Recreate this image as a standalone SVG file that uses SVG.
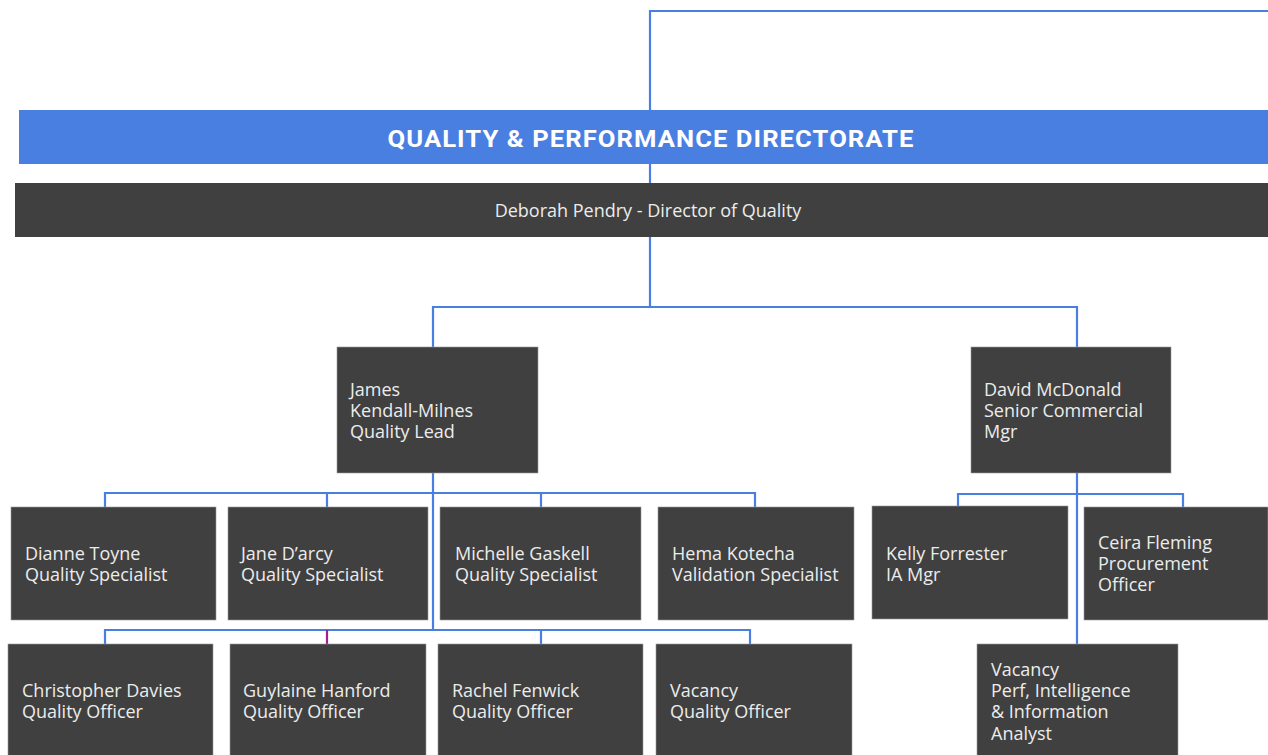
<svg xmlns="http://www.w3.org/2000/svg" width="1268" height="755" viewBox="0 0 1268 755">
<style>
.box{fill:#404040;stroke:#9a9a9a;stroke-width:0.6}
.t{font-family:"Open Sans","Liberation Sans",sans-serif;font-size:18px;fill:#ececec}
.c{fill:none;stroke:#4A7FE2;stroke-width:2.2}
</style>
<rect width="1268" height="755" fill="#ffffff"/>
<g id="connectors">
<path class="c" d="M650 110 V11 H1268"/>
<path class="c" d="M650 164 V183"/>
<path class="c" d="M650 237 V307 M433 347 V307 H1077 V347"/>
<path class="c" d="M433 473 V630 M105 507 V493 H755 V507 M327 493 V507 M541 493 V507"/>
<path class="c" d="M105 644 V630 H750 V644 M541 630 V644"/>
<path fill="none" stroke="#A0208F" stroke-width="2.2" d="M327 630 V644"/>
<path class="c" d="M1077 473 V644 M958 507 V494 H1183 V507"/>
</g>
<g id="banner">
<rect x="19" y="110" width="1249" height="54" fill="#4A7FE2"/>
<text x="651" y="147" text-anchor="middle" font-family="Roboto,'Liberation Sans',sans-serif" font-weight="bold" font-size="24" fill="#ffffff" letter-spacing="1" textLength="527" lengthAdjust="spacingAndGlyphs">QUALITY &amp; PERFORMANCE DIRECTORATE</text>
</g>
<g id="director">
<rect x="15" y="183" width="1253" height="54" fill="#404040"/>
<text class="t" x="648" y="217" text-anchor="middle">Deborah Pendry - Director of Quality</text>
</g>
<g id="james">
<rect class="box" x="337" y="347" width="201" height="126"/>
<text class="t" x="350" y="396">James</text>
<text class="t" x="350" y="417">Kendall-Milnes</text>
<text class="t" x="350" y="438">Quality Lead</text>
</g>
<g id="david">
<rect class="box" x="971" y="347" width="200" height="126"/>
<text class="t" x="984" y="396">David McDonald</text>
<text class="t" x="984" y="417">Senior Commercial</text>
<text class="t" x="984" y="438">Mgr</text>
</g>
<g id="dianne">
<rect class="box" x="11" y="507" width="205" height="113"/>
<text class="t" x="25" y="560">Dianne Toyne</text>
<text class="t" x="25" y="581">Quality Specialist</text>
</g>
<g id="jane">
<rect class="box" x="228" y="507" width="200" height="113"/>
<text class="t" x="241" y="560">Jane D’arcy</text>
<text class="t" x="241" y="581">Quality Specialist</text>
</g>
<g id="michelle">
<rect class="box" x="440" y="507" width="201" height="113"/>
<text class="t" x="455" y="560">Michelle Gaskell</text>
<text class="t" x="455" y="581">Quality Specialist</text>
</g>
<g id="hema">
<rect class="box" x="658" y="507" width="196" height="113"/>
<text class="t" x="672" y="560">Hema Kotecha</text>
<text class="t" x="672" y="581">Validation Specialist</text>
</g>
<g id="kelly">
<rect class="box" x="872" y="506" width="196" height="113"/>
<text class="t" x="886" y="560">Kelly Forrester</text>
<text class="t" x="886" y="581">IA Mgr</text>
</g>
<g id="ceira">
<rect class="box" x="1084" y="507" width="184" height="113"/>
<text class="t" x="1098" y="549">Ceira Fleming</text>
<text class="t" x="1098" y="570">Procurement</text>
<text class="t" x="1098" y="591">Officer</text>
</g>
<g id="christopher">
<rect class="box" x="8" y="644" width="205" height="112"/>
<text class="t" x="22" y="697">Christopher Davies</text>
<text class="t" x="22" y="718">Quality Officer</text>
</g>
<g id="guylaine">
<rect class="box" x="230" y="644" width="196" height="112"/>
<text class="t" x="243" y="697">Guylaine Hanford</text>
<text class="t" x="243" y="718">Quality Officer</text>
</g>
<g id="rachel">
<rect class="box" x="438" y="644" width="205" height="112"/>
<text class="t" x="452" y="697">Rachel Fenwick</text>
<text class="t" x="452" y="718">Quality Officer</text>
</g>
<g id="vacancy-qo">
<rect class="box" x="656" y="644" width="196" height="112"/>
<text class="t" x="670" y="697">Vacancy</text>
<text class="t" x="670" y="718">Quality Officer</text>
</g>
<g id="vacancy-analyst">
<rect class="box" x="977" y="644" width="201" height="112"/>
<text class="t" x="991" y="676">Vacancy</text>
<text class="t" x="991" y="697">Perf, Intelligence</text>
<text class="t" x="991" y="718">&amp; Information</text>
<text class="t" x="991" y="740">Analyst</text>
</g>
</svg>
